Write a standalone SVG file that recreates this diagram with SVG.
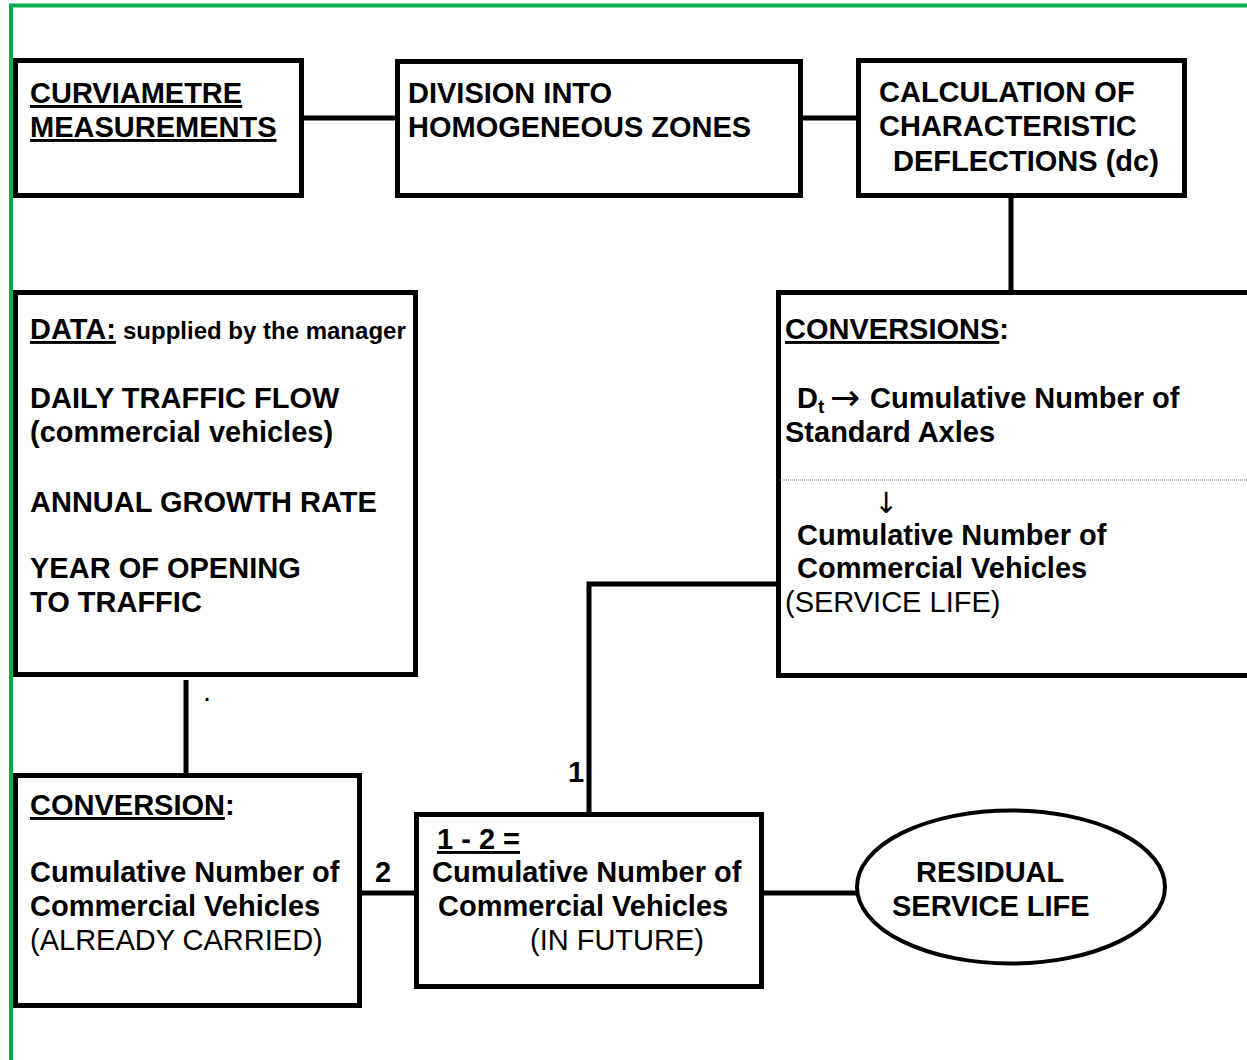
<svg xmlns="http://www.w3.org/2000/svg" width="1247" height="1060" viewBox="0 0 1247 1060">
<style>
.box{fill:#fff;stroke:#000;stroke-width:5}
.con{fill:none;stroke:#000;stroke-width:5}
text{font-family:"Liberation Sans",Arial,sans-serif;font-size:29px;fill:#000}
.b{font-weight:bold}
.u{text-decoration:underline}
.arr{font-family:"DejaVu Sans",sans-serif;font-weight:normal}
</style>
<rect width="1247" height="1060" fill="#fff"/>
<g id="frame">
<line x1="9" y1="5.5" x2="1247" y2="5.5" stroke="#00b050" stroke-width="4"/>
<line x1="11" y1="4" x2="11" y2="1060" stroke="#00b050" stroke-width="4"/>
</g>
<g id="connectors">
<line class="con" x1="304" y1="118" x2="395" y2="118"/>
<line class="con" x1="803" y1="118" x2="856" y2="118"/>
<line class="con" x1="1011" y1="198" x2="1011" y2="291"/>
<line class="con" x1="186" y1="680" x2="186" y2="774"/>
<line class="con" x1="361" y1="893" x2="415" y2="893"/>
<polyline class="con" points="589,813 589,584 780,584"/>
<line class="con" x1="763" y1="893" x2="858" y2="893"/>
<text class="b" x="568" y="782">1</text>
<text class="b" x="375" y="882">2</text>
</g>
<g id="curviametre">
<rect class="box" x="15.5" y="60.5" width="286" height="135"/>
<text class="b u" x="30" y="103">CURVIAMETRE</text>
<text class="b u" x="30" y="137">MEASUREMENTS</text>
</g>
<g id="division">
<rect class="box" x="397.5" y="61.5" width="403" height="134"/>
<text class="b" x="408" y="103">DIVISION INTO</text>
<text class="b" x="408" y="137">HOMOGENEOUS ZONES</text>
</g>
<g id="calculation">
<rect class="box" x="858.5" y="60.5" width="326" height="135"/>
<text class="b" x="879" y="102">CALCULATION OF</text>
<text class="b" x="879" y="136">CHARACTERISTIC</text>
<text class="b" x="893" y="171">DEFLECTIONS (dc)</text>
</g>
<g id="data">
<rect class="box" x="15.5" y="292.5" width="400" height="382"/>
<text class="b" x="30" y="339"><tspan class="u">DATA:</tspan><tspan x="123" font-size="24">supplied by the manager</tspan></text>
<text class="b" x="30" y="408">DAILY TRAFFIC FLOW</text>
<text class="b" x="30" y="442">(commercial vehicles)</text>
<text class="b" x="30" y="512">ANNUAL GROWTH RATE</text>
<text class="b" x="30" y="578">YEAR OF OPENING</text>
<text class="b" x="30" y="612">TO TRAFFIC</text>
<text x="203" y="701" font-size="10">.</text>
</g>
<g id="conversions">
<rect class="box" x="778.5" y="292.5" width="500" height="383"/>
<line x1="780" y1="480" x2="1247" y2="480" stroke="#777" stroke-width="1" stroke-dasharray="1 1"/>
<text class="b" x="785" y="339"><tspan class="u">CONVERSIONS</tspan>:</text>
<text class="b" x="797" y="408">D<tspan font-size="19" dy="5">t</tspan><tspan class="arr" x="830" dy="-3" font-size="36">→</tspan><tspan x="870" dy="-2">Cumulative Number of</tspan></text>
<text class="b" x="785" y="442">Standard Axles</text>
<text class="arr" x="874" y="513" font-size="35">↓</text>
<text class="b" x="797" y="545">Cumulative Number of</text>
<text class="b" x="797" y="578">Commercial Vehicles</text>
<text x="785" y="612">(SERVICE LIFE)</text>
</g>
<g id="conversion">
<rect class="box" x="15.5" y="775.5" width="344" height="230"/>
<text class="b" x="30" y="815"><tspan class="u">CONVERSION</tspan>:</text>
<text class="b" x="30" y="882">Cumulative Number of</text>
<text class="b" x="30" y="916">Commercial Vehicles</text>
<text x="30" y="950">(ALREADY CARRIED)</text>
</g>
<g id="future">
<rect class="box" x="416.5" y="814.5" width="345" height="172"/>
<text class="b u" x="437" y="849">1 - 2 =</text>
<text class="b" x="432" y="882">Cumulative Number of</text>
<text class="b" x="438" y="916">Commercial Vehicles</text>
<text x="530" y="950">(IN FUTURE)</text>
</g>
<g id="residual">
<ellipse cx="1011" cy="887" rx="154" ry="76.5" fill="#fff" stroke="#000" stroke-width="4"/>
<text class="b" x="916" y="882">RESIDUAL</text>
<text class="b" x="892" y="916">SERVICE LIFE</text>
</g>
</svg>
